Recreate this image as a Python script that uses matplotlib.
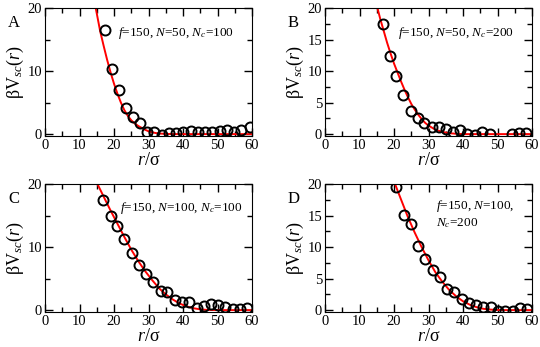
import numpy as np
import matplotlib
matplotlib.use("Agg")
import matplotlib.pyplot as plt
from matplotlib.ticker import MultipleLocator

plt.rcParams["font.family"] = ["Liberation Serif", "DejaVu Serif"]
plt.rcParams["mathtext.fontset"] = "custom"
plt.rcParams["mathtext.rm"] = "Liberation Serif"
plt.rcParams["mathtext.it"] = "Liberation Serif:italic"
plt.rcParams["mathtext.bf"] = "Liberation Serif:bold"

# Panel A: f=150, N=50, Nc=100
a_r = [17.4, 19.5, 21.5, 23.5, 25.6, 27.6, 29.6, 31.7, 33.8, 35.9, 38.0,
       40.1, 42.2, 44.3, 46.4, 48.5, 50.6, 52.7, 54.8, 56.9, 59.4]
a_v = [16.5, 10.4, 7.0, 4.1, 2.7, 1.8, 0.4, 0.3, -0.1, 0.1, 0.1,
       0.3, 0.5, 0.3, 0.4, 0.3, 0.5, 0.7, 0.4, 0.6, 1.1]
a_fit_r = [14.7, 16, 17, 18, 19, 20, 21, 22, 23, 24, 25, 26, 27, 28, 29, 30,
           31, 32, 33, 35, 38, 60]
a_fit_v = [20, 16.3, 14.0, 11.8, 9.8, 8.0, 6.4, 5.0, 3.8, 2.9, 2.2, 1.7, 1.3,
           1.0, 0.7, 0.45, 0.3, 0.18, 0.1, 0.03, 0, 0]

# Panel B: f=150, N=50, Nc=200
b_r = [16.7, 18.7, 20.6, 22.7, 24.8, 26.9, 28.8, 31.0, 33.0, 35.0, 37.1,
       39.2, 41.3, 43.4, 45.6, 47.8, 54.2, 56.2, 58.3]
b_v = [17.4, 12.4, 9.2, 6.2, 3.7, 2.5, 1.7, 1.2, 1.2, 0.8, 0.4,
       0.6, 0.0, -0.1, 0.4, 0.0, 0.0, 0.1, 0.25]
b_fit_r = [15.2, 16, 17, 18, 19, 20, 21, 22, 23, 24, 25, 26, 27, 28, 29, 30,
           32, 34, 36, 38, 40, 60]
b_fit_v = [20, 18.3, 16.4, 14.5, 12.8, 11.2, 9.8, 8.4, 7.1, 5.9, 4.8, 3.9,
           3.1, 2.4, 1.8, 1.35, 0.7, 0.35, 0.15, 0.05, 0, 0]

# Panel C: f=150, N=100, Nc=100
c_r = [16.7, 19.0, 21.0, 23.0, 25.1, 27.2, 29.2, 31.3, 33.5, 35.5, 37.7,
       39.7, 41.8, 44.0, 46.1, 48.1, 50.2, 52.3, 54.4, 56.5, 58.6]
c_v = [17.4, 14.9, 13.4, 11.3, 9.05, 7.2, 5.8, 4.5, 3.1, 2.8, 1.6,
       1.3, 1.3, 0.4, 0.65, 1.0, 0.8, 0.5, 0.25, 0.15, 0.3]
c_fit_r = [15.2, 17, 19, 21, 23, 25, 27, 29, 31, 33, 35, 37, 39, 41, 43, 45,
           47, 50, 60]
c_fit_v = [20, 18.0, 15.8, 13.7, 11.6, 9.6, 7.8, 6.2, 4.8, 3.5, 2.5, 1.7,
           1.05, 0.6, 0.3, 0.12, 0.03, 0, 0]

# Panel D: f=150, N=100, Nc=200
d_r = [20.7, 22.9, 25.0, 27.0, 29.1, 31.2, 33.3, 35.4, 37.5, 39.6, 41.7,
       43.8, 45.9, 48.0, 50.2, 52.3, 54.4, 56.5, 58.6]
d_v = [19.6, 15.1, 13.6, 10.2, 8.1, 6.4, 5.2, 3.4, 2.8, 1.8, 1.2,
       0.8, 0.55, 0.55, -0.1, -0.1, -0.15, 0.35, 0.1]
d_fit_r = [20.3, 22, 24, 26, 28, 30, 32, 34, 36, 38, 40, 42, 44, 46, 48, 50,
           52, 60]
d_fit_v = [20, 17.6, 14.8, 12.3, 10.0, 7.9, 6.0, 4.5, 3.2, 2.2, 1.4, 0.85,
           0.45, 0.2, 0.08, 0.02, 0, 0]

W, H = 540, 347
fig = plt.figure(figsize=(W / 100, H / 100), dpi=100)


def panel(x0, y0, letter, r, v, fr, fv, text, text_xy, ymajor, yminor):
    ax = fig.add_axes([x0 / W, 1 - (y0 + 128) / H, 207 / W, 128 / H])
    ax.plot(fr, fv, color="red", lw=1.4, zorder=2)
    ax.plot(r, v, "o", ms=7.2, mfc="none", mec="black", mew=1.4, zorder=3)
    ax.set_xlim(0, 60)
    ax.set_ylim(-0.3, 20)
    ax.xaxis.set_major_locator(MultipleLocator(10))
    ax.xaxis.set_minor_locator(MultipleLocator(5))
    ax.yaxis.set_major_locator(MultipleLocator(ymajor))
    ax.yaxis.set_minor_locator(MultipleLocator(yminor))
    ax.tick_params(which="both", direction="in", top=True, right=True,
                   labelsize=10.5, width=1)
    ax.tick_params(which="major", length=6, pad=2)
    ax.tick_params(which="minor", length=3.5)
    ax.set_xlabel(r"$r$/σ", fontsize=13, labelpad=0)
    ax.set_ylabel(r"$\mathrm{βV}_{sc}(r)$", fontsize=13, labelpad=1)
    ax.text(text_xy[0], text_xy[1], text, fontsize=9.5, va="center", ha="left")
    fig.text((x0 - 37) / W, 1 - (y0 + 15) / H, letter, fontsize=12,
             va="center", ha="left")
    return ax


panel(45, 8, "A", a_r, a_v, a_fit_r, a_fit_v,
      r"$f$=150, $N$=50, $N_c$=100", (21.2, 16.1), 10, 5)
panel(325, 8, "B", b_r, b_v, b_fit_r, b_fit_v,
      r"$f$=150, $N$=50, $N_c$=200", (21.2, 16.1), 5, 2.5)
panel(45, 184, "C", c_r, c_v, c_fit_r, c_fit_v,
      r"$f$=150, $N$=100, $N_c$=100", (21.6, 16.2), 10, 5)
panel(325, 184, "D", d_r, d_v, d_fit_r, d_fit_v,
      "$f$=150, $N$=100,\n$N_c$=200", (32.1, 15.2), 5, 2.5)

fig.savefig("out.png", dpi=100)
